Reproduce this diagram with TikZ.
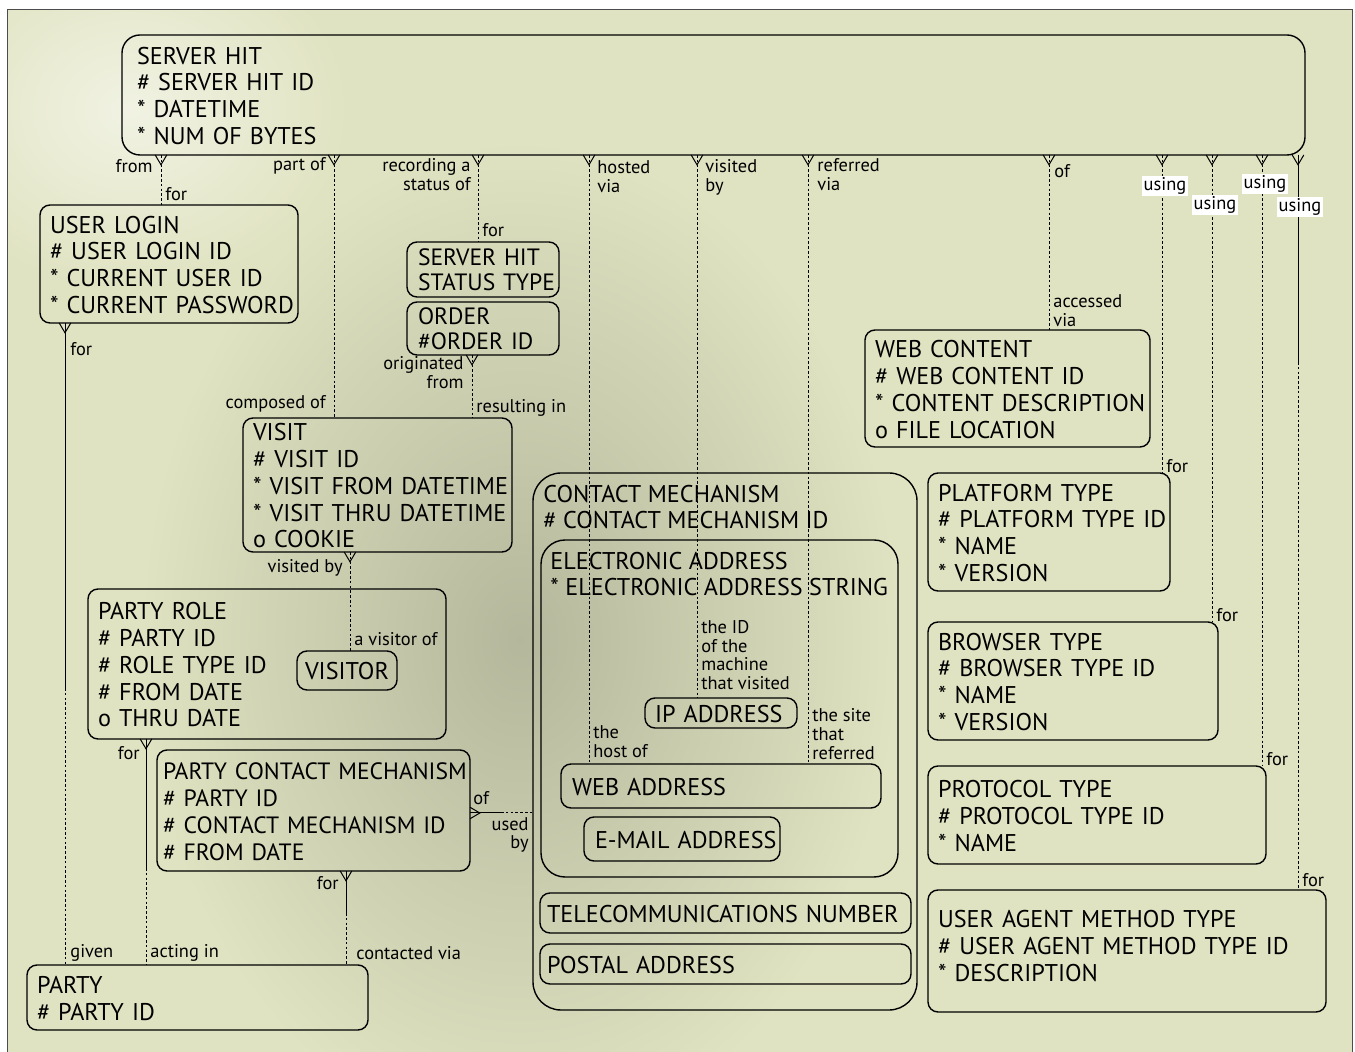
\documentclass[tikz,border=0pt]{standalone}
\usepackage{fontspec}
\setmainfont{PT Sans}

\definecolor{paper}{RGB}{224,227,193}
\definecolor{smudge}{RGB}{180,183,155}

\newcommand{\attrs}[2][-2pt]{\raisebox{#1}[\height][\depth]{\begin{tabular}{@{}l@{}}#2\end{tabular}}}

\tikzset{
  crow/.pic={\draw[solid,line width=0.5pt] (-2.9pt,0) -- (0,-4.9pt) -- (2.9pt,0);}
}

\begin{document}
\begin{tikzpicture}[x=0.5pt,y=-0.5pt,
  entity/.style={draw,line width=0.7pt,rounded corners=5pt,anchor=north west,align=left,
    inner xsep=5pt,inner ysep=0pt,outer sep=0pt,font=\fontsize{12.1}{13.4}\selectfont},
  etext/.style={anchor=north west,align=left,inner sep=0pt,font=\fontsize{12.1}{13.4}\selectfont},
  lbl/.style={inner sep=1pt,align=left,font=\fontsize{9.2}{9.4}\selectfont},
  tag/.style={lbl,fill=white,inner sep=0.8pt},
  rel/.style={line width=0.5pt,dash pattern=on 1.3pt off 1.1pt},
  must/.style={line width=0.5pt}]
  \useasboundingbox (0,0) rectangle (1355,1052);

  % paper
  \begin{scope}
    \clip (7,10) rectangle (1352,1052);
    \fill[paper] (7,10) rectangle (1352,1052);
    \shade[inner color=smudge,outer color=paper] (520,640) ellipse [x radius=190pt,y radius=250pt];
    \shade[inner color=white!55!paper,outer color=paper] (130,110) ellipse [x radius=110pt,y radius=90pt];
  \end{scope}
  \draw[black!70,line width=0.5pt] (7,1052) -- (7,10) -- (1352,10) -- (1352,1052);

  % entities
  \node[entity,inner xsep=7.5pt,text width=576.5pt,minimum height=60pt,rounded corners=9pt] (hit) at (122,35)
    {\attrs{SERVER HIT\\\# SERVER HIT ID\\{}* DATETIME\\{}* NUM OF BYTES}};
  \node[entity,text width=119pt,minimum height=59pt] (login) at (40,205)
    {\attrs{USER LOGIN\\\# USER LOGIN ID\\{}* CURRENT USER ID\\{}* CURRENT PASSWORD}};
  \node[entity,inner xsep=5.5pt,text width=65pt,minimum height=27.5pt,font=\fontsize{11.8}{12.5}\selectfont] (status) at (407,242)
    {\attrs{SERVER HIT\\STATUS TYPE}};
  \node[entity,inner xsep=5.5pt,text width=65pt,minimum height=26.5pt,font=\fontsize{11.8}{12.5}\selectfont] (order) at (407,302)
    {\attrs{ORDER\\\#ORDER ID}};
  \node[entity,text width=124.5pt,minimum height=66.5pt] (visit) at (243,418)
    {\attrs{VISIT\\\# VISIT ID\\{}* VISIT FROM DATETIME\\{}* VISIT THRU DATETIME\\o COOKIE}};
  \node[entity,text width=169pt,minimum height=75pt] (role) at (88,589)
    {\attrs{PARTY ROLE\\\# PARTY ID\\\# ROLE TYPE ID\\\# FROM DATE\\o THRU DATE}};
  \node[entity,inner xsep=4pt,text width=42pt,minimum height=19.5pt] (visitor) at (297,651) {\attrs{VISITOR}};
  \node[entity,inner xsep=3pt,text width=150.5pt,minimum height=60.5pt,font=\fontsize{11.8}{13.4}\selectfont] (pcm) at (157,750)
    {\attrs{PARTY CONTACT MECHANISM\\\# PARTY ID\\\# CONTACT MECHANISM ID\\\# FROM DATE}};
  \node[entity,text width=160.5pt,minimum height=32.5pt] (party) at (27,965)
    {\attrs{PARTY\\\# PARTY ID}};

  \node[entity,inner sep=0pt,minimum width=192pt,minimum height=268.5pt,rounded corners=14pt] (cm) at (533,473) {};
  \node[etext] (cmtext) at (543,479) {\attrs{CONTACT MECHANISM\\\# CONTACT MECHANISM ID}};
  \node[entity,inner sep=0pt,minimum width=178.5pt,minimum height=168.5pt,rounded corners=12pt] (ea) at (541,540) {};
  \node[etext] (eatext) at (550,546) {\attrs{ELECTRONIC ADDRESS\\{}* ELECTRONIC ADDRESS STRING}};
  \node[entity,text width=66pt,minimum height=15pt] (ip) at (645,698) {\attrs{IP ADDRESS}};
  \node[entity,inner xsep=5.5pt,text width=149pt,minimum height=22pt] (web) at (561,764) {\attrs{WEB ADDRESS}};
  \node[entity,inner xsep=5.5pt,text width=87pt,minimum height=22pt] (email) at (584,817) {\attrs{E-MAIL ADDRESS}};
  \node[entity,inner xsep=3.5pt,text width=178.5pt,minimum height=20pt] (tel) at (540,893) {\attrs{TELECOMMUNICATIONS NUMBER}};
  \node[entity,inner xsep=3.5pt,text width=178.5pt,minimum height=20pt] (postal) at (540,944) {\attrs{POSTAL ADDRESS}};

  \node[entity,text width=132.5pt,minimum height=58.5pt] (content) at (865,330)
    {\attrs{WEB CONTENT\\\# WEB CONTENT ID\\{}* CONTENT DESCRIPTION\\o FILE LOCATION}};
  \node[entity,text width=111pt,minimum height=59pt] (platform) at (928,473)
    {\attrs{PLATFORM TYPE\\\# PLATFORM TYPE ID\\{}* NAME\\{}* VERSION}};
  \node[entity,text width=135pt,minimum height=59pt] (browser) at (928,622)
    {\attrs{BROWSER TYPE\\\# BROWSER TYPE ID\\{}* NAME\\{}* VERSION}};
  \node[entity,text width=159pt,minimum height=49pt] (protocol) at (928,766)
    {\attrs{PROTOCOL TYPE\\\# PROTOCOL TYPE ID\\{}* NAME}};
  \node[entity,text width=189pt,minimum height=61pt] (agent) at (928,890)
    {\attrs[1pt]{USER AGENT METHOD TYPE\\\# USER AGENT METHOD TYPE ID\\{}* DESCRIPTION}};

  % relationships from server hit
  \foreach \x/\e in {161/login,334/visit,478/status,589/web,697/ip,808/web,1049/content,1162/platform,1212/browser,1262/protocol}{
    \draw[rel] (hit.south -| \x,0) -- (\e.north -| \x,0);
    \pic at (hit.south -| \x,0) {crow};
  }
  \draw[must] (hit.south -| 1298,0) -- (1298,362) coordinate (ua);
  \draw[rel] (ua) -- (agent.north -| ua);
  \pic at (hit.south -| 1298,0) {crow};

  % other relationships
  \draw[rel] (order.south -| 472,0) -- (visit.north -| 472,0);
  \pic at (order.south -| 472,0) {crow};
  \draw[rel] (visit.south -| 350,0) -- (visitor.north -| 350,0);
  \pic at (visit.south -| 350,0) {crow};
  \draw[must] (login.south -| 65,0) -- (65,688) coordinate (lg);
  \draw[rel] (lg) -- (party.north -| lg);
  \pic at (login.south -| 65,0) {crow};
  \draw[must] (role.south -| 146,0) -- (146,868) coordinate (rp);
  \draw[rel] (rp) -- (party.north -| rp);
  \pic at (role.south -| 146,0) {crow};
  \draw[must] (pcm.south -| 346,0) -- (346,913) coordinate (pp);
  \draw[rel] (pp) -- (party.north -| pp);
  \pic at (pcm.south -| 346,0) {crow};
  \draw[must] (pcm.east |- 0,813) -- (501,813) coordinate (pc);
  \draw[rel] (pc) -- (cm.west |- pc);
  \pic[rotate=90] at (pcm.east |- 0,813) {crow};

  % labels
  \node[lbl,anchor=east] (lfrom) at (155,166) {from};
  \node[lbl,anchor=west] (lfor1) at (163,194) {for};
  \node[lbl,anchor=east] (lpart) at (328,166) {part of};
  \node[lbl,anchor=east,align=right] (lrec) at (473,175) {recording a\\status of};
  \node[lbl,anchor=west] (lfor2) at (480,230) {for};
  \node[lbl,anchor=east,align=right] (lorig) at (466,373) {originated\\from};
  \node[lbl,anchor=west] (lres) at (474,408) {resulting in};
  \node[lbl,anchor=east] (lcomp) at (328,404) {composed of};
  \node[lbl,anchor=west] (lhost) at (595,177) {hosted\\via};
  \node[lbl,anchor=west] (lvis) at (703,177) {visited\\by};
  \node[lbl,anchor=west] (lref) at (815,175) {referred\\via};
  \node[lbl,anchor=west] (lof) at (1052,171) {of};
  \node[lbl,anchor=west] (lacc) at (1051,311) {accessed\\via};
  \node[tag] (lu1) at (1165,186) {using};
  \node[tag] (lu2) at (1215,205) {using};
  \node[tag] (lu3) at (1265,184) {using};
  \node[tag] (lu4) at (1300,207) {using};
  \node[lbl,anchor=west] (lfor3) at (1164,466) {for};
  \node[lbl,anchor=west] (lfor4) at (1214,615) {for};
  \node[lbl,anchor=west] (lfor5) at (1264,759) {for};
  \node[lbl,anchor=west] (lfor6) at (1300,880) {for};
  \node[lbl,anchor=west] (lfor7) at (68,349) {for};
  \node[lbl,anchor=west] (lgiven) at (68,953) {given};
  \node[lbl,anchor=west] (lact) at (148,953) {acting in};
  \node[lbl,anchor=east] (lfor8) at (142,753) {for};
  \node[lbl,anchor=east] (lvisby) at (345,568) {visited by};
  \node[lbl,anchor=west] (lvof) at (352,639) {a visitor of};
  \node[lbl,anchor=west] (lof2) at (471,798) {of};
  \node[lbl,anchor=east,align=right] (lused) at (531,835) {used\\by};
  \node[lbl,anchor=east] (lfor9) at (341,883) {for};
  \node[lbl,anchor=west] (lcont) at (354,953) {contacted via};
  \node[lbl,anchor=west] (lmach) at (699,655) {the ID\\of the\\machine\\that visited};
  \node[lbl,anchor=west] (lhostof) at (591,742) {the\\host of};
  \node[lbl,anchor=west] (lsite) at (810,734) {the site\\that\\referred};
\end{tikzpicture}
\end{document}
